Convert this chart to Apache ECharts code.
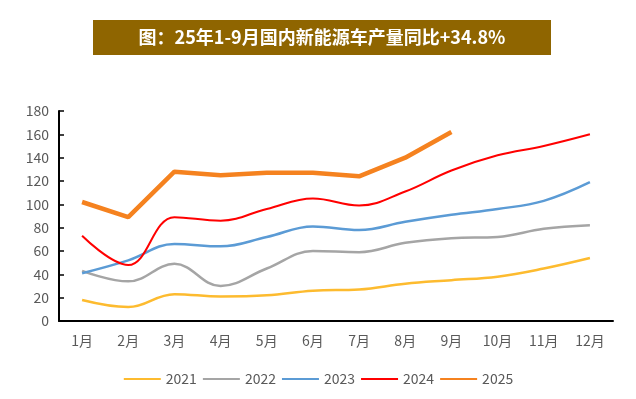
<!DOCTYPE html>
<html>
<head>
<meta charset="utf-8">
<script src="https://cdn.jsdelivr.net/npm/echarts@6/dist/echarts.min.js"></script>
<style>
  html, body { margin: 0; padding: 0; background: #fff; }
  #chart { width: 636px; height: 399px; }
</style>
</head>
<body>
<div id="chart"></div>
<script>
// 数据
var months = ['1月', '2月', '3月', '4月', '5月', '6月', '7月', '8月', '9月', '10月', '11月', '12月'];
var y2021 = [18, 12, 23, 21, 22, 26, 27, 32, 35, 38, 45, 54];
var y2022 = [43, 34, 49, 30, 45, 60, 59, 67, 71, 72, 79, 82];
var y2023 = [41, 52, 66, 64, 72, 81, 78, 85, 91, 96, 103, 119];
var y2024 = [73, 48, 89, 86, 96, 105, 99, 111, 129, 142, 150, 160];
var y2025 = [102, 89, 128, 125, 127, 127, 124, 140, 162];
var titleText = '图：25年1-9月国内新能源车产量同比+34.8%';

var font = '"Noto Sans CJK SC", "Liberation Sans", sans-serif';

var myChart = echarts.init(document.getElementById('chart'));

function lineSeries(name, data, color, width, smooth) {
  return {
    name: name,
    type: 'line',
    data: data,
    smooth: smooth,
    symbol: 'none',
    lineStyle: { color: color, width: width },
    itemStyle: { color: color }
  };
}

myChart.setOption({
  animation: false,
  graphic: [
    {
      type: 'rect',
      shape: { x: 93, y: 20, width: 458, height: 35 },
      style: { fill: '#8F6500' }
    },
    {
      type: 'text',
      x: 322,
      y: 37.5,
      style: {
        text: titleText,
        fill: '#fff',
        font: 'bold 18px ' + font,
        textAlign: 'center',
        textVerticalAlign: 'middle'
      }
    }
  ],
  grid: { left: 59, right: 23, top: 111, bottom: 78 },
  legend: {
    bottom: 8,
    left: 'center',
    itemWidth: 37,
    itemHeight: 10,
    itemGap: 5,
    itemStyle: { opacity: 0 },
    textStyle: { color: '#595959', fontSize: 14, fontFamily: font },
    data: ['2021', '2022', '2023', '2024', '2025']
  },
  xAxis: {
    type: 'category',
    data: months,
    boundaryGap: true,
    axisLine: { lineStyle: { color: '#000', width: 2 } },
    axisTick: { inside: true, length: 5, lineStyle: { color: '#000', width: 1.5 } },
    axisLabel: { color: '#595959', fontSize: 14, fontFamily: font, margin: 13 }
  },
  yAxis: {
    type: 'value',
    min: 0,
    max: 180,
    interval: 20,
    axisLine: { show: true, lineStyle: { color: '#000', width: 2 } },
    axisTick: { show: true, inside: true, length: 5, lineStyle: { color: '#000', width: 1.5 } },
    splitLine: { show: false },
    axisLabel: { color: '#595959', fontSize: 14, fontFamily: font, margin: 10 }
  },
  series: [
    lineSeries('2021', y2021, '#FDBB2F', 2.5, 0.4),
    lineSeries('2022', y2022, '#A5A5A5', 2.5, 0.4),
    lineSeries('2023', y2023, '#5B9BD5', 2.5, 0.4),
    lineSeries('2024', y2024, '#FF0000', 2, 0.4),
    lineSeries('2025', y2025, '#F5821F', 4.5, false)
  ]
});

window.addEventListener('resize', function () {
  myChart.resize();
});
</script>
</body>
</html>
